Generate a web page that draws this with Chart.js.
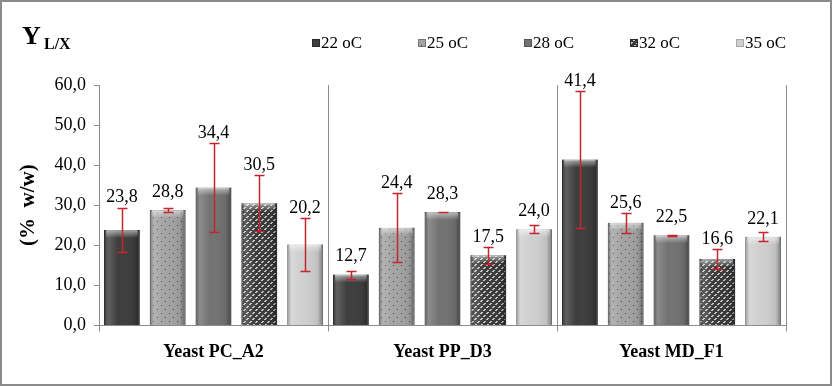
<!DOCTYPE html>
<html>
<head>
<meta charset="utf-8">
<script src="https://cdn.jsdelivr.net/npm/chart.js@4.4.1/dist/chart.umd.min.js"></script>
<style>
  html, body { margin: 0; padding: 0; background: #fff; }
  #wrap { width: 832px; height: 386px; position: relative; }
</style>
</head>
<body>
<div id="wrap"><canvas id="chart"></canvas></div>
<script>
// data
const categories = ['Yeast PC_A2', 'Yeast PP_D3', 'Yeast MD_F1'];
const temps = ['22 oC', '25 oC', '28 oC', '32 oC', '35 oC'];

const t22 = [23.8, 12.7, 41.4];
const t25 = [28.8, 24.4, 25.6];
const t28 = [34.4, 28.3, 22.5];
const t32 = [30.5, 17.5, 16.6];
const t35 = [20.2, 24.0, 22.1];

// +/- error (std dev)
const e22 = [5.6, 1.0, 17.0];
const e25 = [0.6, 8.6, 2.5];
const e28 = [11.1, 0.1, 0.1];
const e32 = [7.0, 2.1, 2.4];
const e35 = [6.6, 1.0, 1.1];

const yTicks = [0, 10, 20, 30, 40, 50, 60];

const values = [t22, t25, t28, t32, t35];
const errors = [e22, e25, e28, e32, e35];

const serif = 'Liberation Serif, Times New Roman, serif';
const fmt = v => v.toFixed(1).replace('.', ',');

// fill patterns
function dotPattern() {
  const c = document.createElement('canvas');
  c.width = 8; c.height = 8;
  const g = c.getContext('2d');
  g.fillStyle = '#a3a3a3';
  g.fillRect(0, 0, 8, 8);
  g.fillStyle = '#4a4a4a';
  g.fillRect(1, 1, 1, 1);
  g.fillRect(5, 5, 1, 1);
  return g.createPattern(c, 'repeat');
}
function checkPattern() {
  const c = document.createElement('canvas');
  c.width = 6; c.height = 6;
  const g = c.getContext('2d');
  g.fillStyle = '#3a3a3a';
  g.fillRect(0, 0, 6, 6);
  g.fillStyle = '#c8c8c8';
  g.fillRect(1, 0, 2, 1);
  g.fillRect(0, 1, 2, 1);
  g.fillRect(4, 3, 2, 1);
  g.fillRect(3, 4, 2, 1);
  return g.createPattern(c, 'repeat');
}

const fills = ['#3d3d3d', dotPattern(), '#727272', checkPattern(), '#cfcfcf'];
const edges = ['#2a2a2a', '#777777', '#555555', '#2a2a2a', '#a8a8a8'];

const datasets = temps.map((t, i) => ({
  label: t,
  data: values[i],
  backgroundColor: fills[i],
  borderColor: edges[i],
  borderWidth: 1
}));

// page background and frame
const framePlugin = {
  id: 'frame',
  beforeDraw(chart) {
    const ctx = chart.ctx;
    ctx.save();
    ctx.fillStyle = '#fff';
    ctx.fillRect(0, 0, chart.width, chart.height);
    ctx.strokeStyle = '#8a8a8a';
    ctx.lineWidth = 2;
    ctx.strokeRect(1, 1, chart.width - 2, chart.height - 2);
    ctx.restore();
  },
  afterDraw(chart) {
    const ctx = chart.ctx;
    ctx.save();
    // "Y L/X" heading
    ctx.fillStyle = '#000';
    ctx.textBaseline = 'alphabetic';
    ctx.font = 'bold 26px ' + serif;
    ctx.fillText('Y', 22, 44);
    ctx.font = 'bold 16px ' + serif;
    ctx.fillText('L/X', 44, 49);
    // legend
    const step = 106;
    const x0 = chart.chartArea.right - 474;
    ctx.font = '17px ' + serif;
    ctx.textBaseline = 'middle';
    temps.forEach((t, i) => {
      const x = x0 + i * step;
      ctx.fillStyle = fills[i];
      ctx.fillRect(x, 39, 8, 8);
      ctx.strokeStyle = edges[i];
      ctx.lineWidth = 1;
      ctx.strokeRect(x + 0.5, 39.5, 7, 7);
      ctx.fillStyle = '#000';
      ctx.fillText(t, x + 9, 44);
    });
    ctx.restore();
  }
};

// bevel shading, error bars and value labels
const barExtras = {
  id: 'barExtras',
  afterDatasetsDraw(chart) {
    const ctx = chart.ctx;
    const y = chart.scales.y;
    ctx.save();
    chart.data.datasets.forEach((ds, i) => {
      const meta = chart.getDatasetMeta(i);
      meta.data.forEach((bar, j) => {
        const left = bar.x - bar.width / 2;
        const h = bar.base - bar.y;
        const g = ctx.createLinearGradient(left, 0, left + bar.width, 0);
        g.addColorStop(0, 'rgba(0,0,0,0.35)');
        g.addColorStop(0.12, 'rgba(255,255,255,0.18)');
        g.addColorStop(0.4, 'rgba(255,255,255,0)');
        g.addColorStop(0.85, 'rgba(0,0,0,0.08)');
        g.addColorStop(1, 'rgba(0,0,0,0.4)');
        ctx.fillStyle = g;
        ctx.fillRect(left, bar.y, bar.width, h);
        const gt = ctx.createLinearGradient(0, bar.y, 0, bar.y + 8);
        gt.addColorStop(0, 'rgba(255,255,255,0.55)');
        gt.addColorStop(1, 'rgba(255,255,255,0)');
        ctx.fillStyle = gt;
        ctx.fillRect(left + 2, bar.y, bar.width - 4, Math.min(8, h));
      });
    });
    // error bars
    ctx.strokeStyle = '#c4262e';
    ctx.lineWidth = 1.5;
    chart.data.datasets.forEach((ds, i) => {
      const meta = chart.getDatasetMeta(i);
      meta.data.forEach((bar, j) => {
        const v = values[i][j], e = errors[i][j];
        const yt = Math.round(y.getPixelForValue(v + e)) + 0.5;
        const yb = Math.round(y.getPixelForValue(v - e)) + 0.5;
        const x = Math.round(bar.x) + 0.5;
        ctx.beginPath();
        ctx.moveTo(x, yt); ctx.lineTo(x, yb);
        ctx.moveTo(x - 5, yt); ctx.lineTo(x + 5, yt);
        ctx.moveTo(x - 5, yb); ctx.lineTo(x + 5, yb);
        ctx.stroke();
      });
    });
    // value labels
    ctx.fillStyle = '#000';
    ctx.font = '18px ' + serif;
    ctx.textAlign = 'center';
    ctx.textBaseline = 'middle';
    chart.data.datasets.forEach((ds, i) => {
      const meta = chart.getDatasetMeta(i);
      meta.data.forEach((bar, j) => {
        const v = values[i][j], e = errors[i][j];
        const yt = y.getPixelForValue(v + e);
        const ly = Math.min(bar.y - 18, yt - 10);
        ctx.fillText(fmt(v), bar.x, ly);
      });
    });
    ctx.restore();
  }
};

new Chart(document.getElementById('chart'), {
  type: 'bar',
  data: { labels: categories, datasets },
  options: {
    responsive: true,
    maintainAspectRatio: false,
    animation: false,
    events: [],
    layout: { padding: { top: 85, right: 46, bottom: 13, left: 0 } },
    datasets: { bar: { categoryPercentage: 1.0, barPercentage: 0.78 } },
    plugins: {
      legend: { display: false },
      tooltip: { enabled: false }
    },
    scales: {
      x: {
        grid: { display: true, offset: true, drawOnChartArea: true, color: '#8c8c8c', tickLength: 6 },
        border: { display: true, color: '#8c8c8c' },
        ticks: { color: '#000', padding: 10, font: { family: serif, size: 18, weight: 'bold' } }
      },
      y: {
        min: 0,
        max: 60,
        afterBuildTicks(scale) { scale.ticks = yTicks.map(v => ({ value: v })); },
        afterFit(scale) { scale.width = 99; },
        grid: { display: true, drawOnChartArea: false, color: '#8c8c8c', tickLength: 5 },
        border: { display: true, color: '#8c8c8c' },
        ticks: { color: '#000', padding: 8, font: { family: serif, size: 18 }, callback: v => fmt(v) },
        title: {
          display: true,
          text: '(%  w/w)',
          color: '#000',
          font: { family: serif, size: 21, weight: 'bold' },
          padding: { top: 16, bottom: 0 }
        }
      }
    }
  },
  plugins: [framePlugin, barExtras]
});
</script>
</body>
</html>
